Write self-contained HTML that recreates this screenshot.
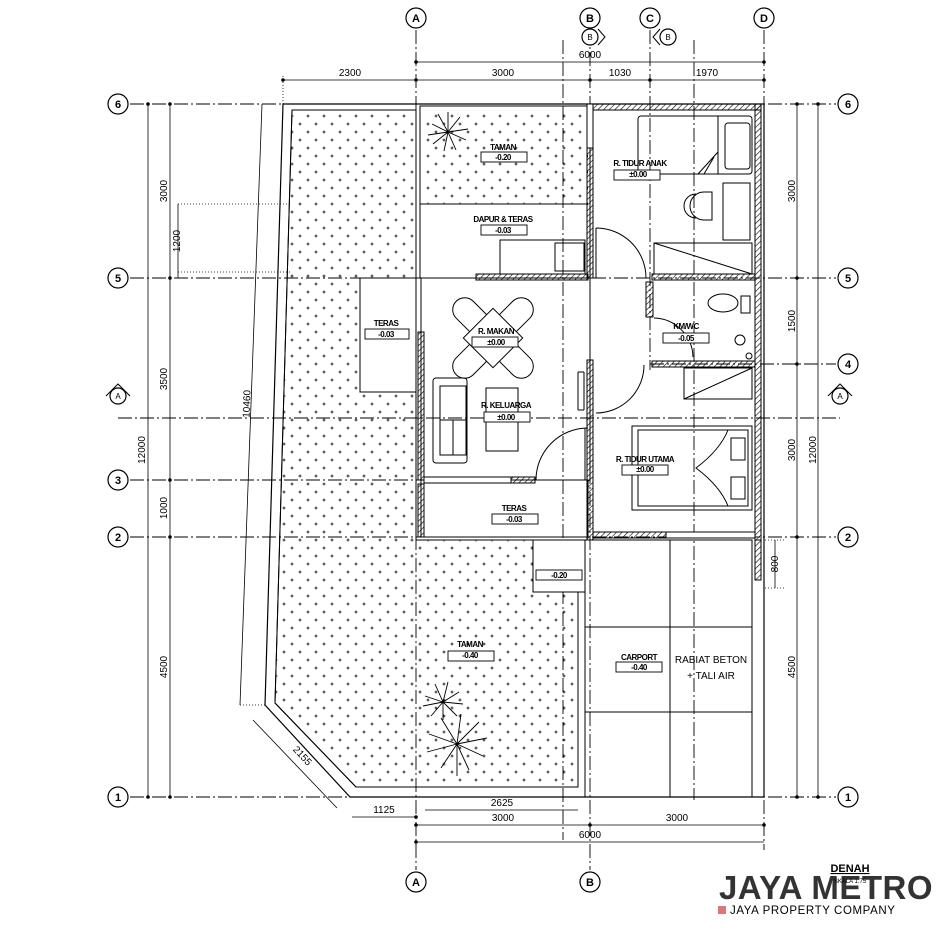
<!DOCTYPE html>
<html><head><meta charset="utf-8"><style>
html,body{margin:0;padding:0;background:#fff;width:949px;height:930px;overflow:hidden}
svg{display:block}
text{font-family:"Liberation Sans",sans-serif;fill:#000}
.b{font-weight:bold;font-size:8px;letter-spacing:-0.5px}
.d{font-size:10px}
</style></head><body>
<svg width="949" height="930" viewBox="0 0 949 930" xmlns="http://www.w3.org/2000/svg">
<defs>
<pattern id="pl" width="16" height="16" patternUnits="userSpaceOnUse">
<path d="M4 2.5v3M2.5 4h3M12 10.5v3M10.5 12h3" stroke="#000" stroke-width="0.8"/>
</pattern>
<pattern id="ht" width="4" height="4" patternUnits="userSpaceOnUse" patternTransform="rotate(45)">
<line x1="0" y1="0" x2="0" y2="4" stroke="#000" stroke-width="1.2"/>
</pattern>
</defs>
<g fill="none" stroke="#000" stroke-width="1">
<g stroke-dasharray="14 3 2 3" stroke-width="0.9">
<line x1="130" y1="104" x2="836" y2="104"/>
<line x1="130" y1="278" x2="836" y2="278"/>
<line x1="650" y1="364" x2="836" y2="364"/>
<line x1="118" y1="418" x2="840" y2="418"/>
<line x1="130" y1="480" x2="590" y2="480"/>
<line x1="130" y1="537" x2="836" y2="537"/>
<line x1="130" y1="797" x2="836" y2="797"/>
<line x1="416" y1="30" x2="416" y2="870"/>
<line x1="590" y1="30" x2="590" y2="870"/>
<line x1="650" y1="30" x2="650" y2="370"/>
<line x1="764" y1="30" x2="764" y2="850"/>
<line x1="563" y1="40" x2="563" y2="840"/>
<line x1="694" y1="40" x2="694" y2="800"/>
</g>
</g>
<polygon points="292,110 416,110 416,540 533,540 533,592 578,592 578,787 356,787 275,703" fill="url(#pl)" stroke="#000"/>
<rect x="422" y="110" width="166" height="94" fill="url(#pl)" stroke="none"/>
<g fill="none" stroke="#000" stroke-width="1">
<polyline points="283,104 764,104 764,797 350,797 265,705 283,104" stroke-width="1.2"/>
<polyline points="292,110 275,703 356,787"/>
<rect x="420" y="106" width="170" height="172"/>
<line x1="420" y1="204" x2="588" y2="204"/>
<rect x="360" y="278" width="56" height="114" fill="#fff"/>
<rect x="533" y="540" width="52" height="52" fill="#fff"/>
<rect x="585" y="540" width="167" height="257"/>
<line x1="670" y1="540" x2="670" y2="797"/>
<line x1="585" y1="627" x2="752" y2="627"/>
<line x1="585" y1="712" x2="752" y2="712"/>
<line x1="752" y1="540" x2="752" y2="797"/>
<rect x="421" y="480" width="167" height="57"/>
<rect x="421" y="278" width="169" height="202"/>
</g>
<g fill="url(#ht)" stroke="#000" stroke-width="1">
<rect x="592" y="104" width="169" height="6"/>
<rect x="755" y="104" width="6" height="436"/>
<rect x="587" y="148" width="6" height="130"/>
<rect x="476" y="274" width="112" height="6"/>
<rect x="652" y="274" width="103" height="6"/>
<rect x="646" y="282" width="7" height="35"/>
<rect x="652" y="361" width="103" height="6"/>
<rect x="587" y="360" width="6" height="180"/>
<rect x="418" y="332" width="6" height="148"/>
<rect x="418" y="484" width="6" height="53"/>
<rect x="511" y="477" width="24" height="6"/>
<rect x="593" y="532" width="73" height="6"/>
<rect x="755" y="540" width="6" height="40"/>
</g>
<g fill="#fff" stroke="#000" stroke-width="1">
<rect x="424" y="477" width="87" height="6"/>
<rect x="666" y="532" width="89" height="6"/>
<rect x="587" y="104" width="6" height="44"/>
</g>
<g fill="none" stroke="#000" stroke-width="1">
<path d="M596 228 A50 50 0 0 1 646 278"/>
<line x1="596" y1="228" x2="596" y2="278"/>
<path d="M596 413 A48 48 0 0 0 644 365"/>
<path d="M536 480 A52 52 0 0 1 588 428"/>
<line x1="585" y1="428" x2="585" y2="480"/>
<path d="M654 318 A40 40 0 0 1 693 357"/>
<line x1="578" y1="372" x2="578" y2="410"/>
<line x1="584" y1="372" x2="584" y2="410"/>
<line x1="578" y1="372" x2="584" y2="372"/><line x1="578" y1="410" x2="584" y2="410"/>
<rect x="500" y="240" width="85" height="34"/>
<rect x="555" y="243" width="29" height="28"/>
<rect x="638" y="116" width="114" height="58" rx="3"/>
<rect x="725" y="123" width="25" height="46" rx="3"/>
<line x1="718" y1="116" x2="718" y2="174"/>
<path d="M718 152 L698 174 M714 157 L704 174"/>
<rect x="723" y="183" width="27" height="57"/>
<path d="M712 192 h-8 a14 14 0 0 0 0 28 h8 z"/>
<path d="M696 194 a12 12 0 0 0 0 24"/>
<rect x="654" y="243" width="98" height="31"/>
<line x1="654" y1="243" x2="752" y2="274"/>
<ellipse cx="723" cy="303" rx="15" ry="9"/>
<rect x="741" y="296" width="9" height="17"/>
<circle cx="740" cy="340" r="5"/>
<circle cx="749" cy="356" r="3"/>
<rect x="684" y="368" width="68" height="31"/>
<line x1="684" y1="399" x2="752" y2="368"/>
<rect x="632" y="426" width="120" height="84"/>
<rect x="638" y="430" width="110" height="76"/>
<path d="M728 430 Q720 450 696 468 Q720 486 728 506"/>
<rect x="731" y="438" width="14" height="22"/><rect x="731" y="477" width="14" height="22"/>
<g transform="translate(493 338)">
<rect x="-52" y="-12" width="104" height="24" rx="12" transform="rotate(45)" fill="#fff"/>
<rect x="-52" y="-12" width="104" height="24" rx="12" transform="rotate(-45)" fill="#fff"/>
<rect x="-21" y="-21" width="42" height="42" transform="rotate(45)" fill="#fff"/>
</g>
<rect x="433" y="378" width="34" height="85" rx="3"/>
<rect x="440" y="386" width="26" height="69"/>
<line x1="440" y1="420" x2="466" y2="420"/><line x1="453" y1="420" x2="453" y2="455"/>
<rect x="486" y="388" width="32" height="63"/>
<g stroke-width="0.8">
<line x1="283" y1="80" x2="764" y2="80"/>
<line x1="416" y1="62" x2="764" y2="62"/>
<line x1="148" y1="104" x2="148" y2="797"/>
<line x1="170" y1="104" x2="170" y2="797"/>
<line x1="178" y1="204" x2="178" y2="278"/>
<line x1="262" y1="104" x2="240" y2="705"/>
<line x1="797" y1="104" x2="797" y2="797"/>
<line x1="818" y1="104" x2="818" y2="797"/>
<line x1="775" y1="540" x2="775" y2="588"/>
<line x1="352" y1="817" x2="416" y2="817"/>
<line x1="425" y1="810" x2="578" y2="810"/>
<line x1="416" y1="825" x2="764" y2="825"/>
<line x1="416" y1="842" x2="764" y2="842"/>
<line x1="253" y1="720" x2="337" y2="808"/>
</g>
<g stroke-dasharray="1 2" stroke-width="0.8">
<line x1="283" y1="76" x2="283" y2="104"/>
<line x1="178" y1="204" x2="290" y2="204"/>
<line x1="178" y1="272" x2="290" y2="272"/>
<line x1="765" y1="540" x2="785" y2="540"/>
<line x1="765" y1="588" x2="785" y2="588"/>
<line x1="240" y1="705" x2="265" y2="705"/>
</g>
</g>
<g fill="#000">
<circle cx="416" cy="80" r="1.8"/><circle cx="590" cy="80" r="1.8"/><circle cx="650" cy="80" r="1.8"/><circle cx="764" cy="80" r="1.8"/><circle cx="283" cy="80" r="1.8"/>
<circle cx="416" cy="62" r="1.8"/><circle cx="764" cy="62" r="1.8"/>
<circle cx="170" cy="278" r="1.8"/><circle cx="170" cy="480" r="1.8"/><circle cx="170" cy="537" r="1.8"/><circle cx="148" cy="104" r="1.8"/><circle cx="170" cy="104" r="1.8"/><circle cx="148" cy="797" r="1.8"/><circle cx="170" cy="797" r="1.8"/>
<circle cx="797" cy="278" r="1.8"/><circle cx="797" cy="364" r="1.8"/><circle cx="797" cy="537" r="1.8"/><circle cx="797" cy="104" r="1.8"/><circle cx="818" cy="104" r="1.8"/><circle cx="797" cy="797" r="1.8"/><circle cx="818" cy="797" r="1.8"/>
<circle cx="416" cy="825" r="1.8"/><circle cx="590" cy="825" r="1.8"/><circle cx="764" cy="825" r="1.8"/><circle cx="416" cy="842" r="1.8"/><circle cx="416" cy="817" r="1.8"/>
</g>
<g fill="#fff" stroke="#000" stroke-width="1.2">
<circle cx="416" cy="18" r="10"/><circle cx="590" cy="18" r="10"/><circle cx="650" cy="18" r="10"/><circle cx="764" cy="18" r="10"/>
<circle cx="416" cy="882" r="10"/><circle cx="590" cy="882" r="10"/>
<circle cx="118" cy="104" r="10"/><circle cx="118" cy="278" r="10"/><circle cx="118" cy="480" r="10"/><circle cx="118" cy="537" r="10"/><circle cx="118" cy="797" r="10"/>
<circle cx="848" cy="104" r="10"/><circle cx="848" cy="278" r="10"/><circle cx="848" cy="364" r="10"/><circle cx="848" cy="537" r="10"/><circle cx="848" cy="797" r="10"/>
<circle cx="118" cy="396" r="8"/><circle cx="840" cy="396" r="8"/>
<circle cx="590" cy="37" r="8"/><circle cx="668" cy="37" r="8"/>
</g>
<g fill="none" stroke="#000"><path d="M106 396 L118 384 L130 396 M828 396 L840 384 L852 396 M598 29 L605 37 L598 45 M660 29 L653 37 L660 45"/></g>
<g font-size="11" font-weight="bold" text-anchor="middle">
<text x="416" y="22">A</text><text x="590" y="22">B</text><text x="650" y="22">C</text><text x="764" y="22">D</text>
<text x="416" y="886">A</text><text x="590" y="886">B</text>
<text x="118" y="108">6</text><text x="118" y="282">5</text><text x="118" y="484">3</text><text x="118" y="541">2</text><text x="118" y="801">1</text>
<text x="848" y="108">6</text><text x="848" y="282">5</text><text x="848" y="368">4</text><text x="848" y="541">2</text><text x="848" y="801">1</text>
</g>
<g font-size="8" text-anchor="middle"><text x="118" y="399">A</text><text x="840" y="399">A</text><text x="590" y="40">B</text><text x="668" y="40">B</text></g>
<g class="d" text-anchor="middle">
<text x="350" y="76">2300</text><text x="503" y="76">3000</text><text x="620" y="76">1030</text><text x="707" y="76">1970</text>
<text x="590" y="58">6000</text>
<text x="384" y="813">1125</text><text x="502" y="806">2625</text><text x="503" y="821">3000</text><text x="677" y="821">3000</text><text x="590" y="838">6000</text>
<text transform="translate(167 191) rotate(-90)">3000</text>
<text transform="translate(180 241) rotate(-90)">1200</text>
<text transform="translate(167 379) rotate(-90)">3500</text>
<text transform="translate(167 508) rotate(-90)">1000</text>
<text transform="translate(167 667) rotate(-90)">4500</text>
<text transform="translate(145 450) rotate(-90)">12000</text>
<text transform="translate(250 404) rotate(-88)">10460</text>
<text transform="translate(795 191) rotate(-90)">3000</text>
<text transform="translate(795 321) rotate(-90)">1500</text>
<text transform="translate(795 450) rotate(-90)">3000</text>
<text transform="translate(795 667) rotate(-90)">4500</text>
<text transform="translate(816 450) rotate(-90)">12000</text>
<text transform="translate(778 564) rotate(-90)">800</text>
<text transform="translate(300 758) rotate(47)">2155</text>
</g>
<g fill="#fff" stroke="#000" stroke-width="0.9">
<rect x="481" y="152" width="46" height="10"/><rect x="481" y="225" width="46" height="10"/><rect x="365" y="329" width="44" height="10"/><rect x="472" y="337" width="46" height="10"/><rect x="484" y="412" width="46" height="10"/><rect x="492" y="514" width="46" height="10"/><rect x="614" y="170" width="46" height="10"/><rect x="663" y="333" width="46" height="10"/><rect x="622" y="465" width="46" height="10"/><rect x="448" y="651" width="46" height="10"/><rect x="616" y="662" width="46" height="10"/><rect x="536" y="570" width="46" height="10"/>
</g>
<g text-anchor="middle">
<g class="b"><text x="503" y="150">TAMAN</text><text x="503" y="222">DAPUR &amp; TERAS</text><text x="386" y="326">TERAS</text><text x="496" y="334">R. MAKAN</text><text x="506" y="408">R. KELUARGA</text><text x="514" y="511">TERAS</text><text x="640" y="166">R. TIDUR ANAK</text><text x="686" y="329">KM/WC</text><text x="645" y="462">R. TIDUR UTAMA</text><text x="470" y="647">TAMAN</text><text x="639" y="660">CARPORT</text>
<text x="503" y="160">-0.20</text><text x="503" y="233">-0.03</text><text x="386" y="337">-0.03</text><text x="496" y="345">±0.00</text><text x="506" y="420">±0.00</text><text x="514" y="522">-0.03</text><text x="638" y="177">±0.00</text><text x="686" y="341">-0.05</text><text x="645" y="472">±0.00</text><text x="470" y="658">-0.40</text><text x="639" y="670">-0.40</text><text x="559" y="578">-0.20</text></g>
</g>
<g font-size="10" text-anchor="middle"><text x="711" y="663">RABIAT BETON</text><text x="711" y="679">+ TALI AIR</text></g>
<g fill="none" stroke="#000" stroke-width="0.9">
<g transform="translate(448 132)"><path d="M0 0L-16-8M0 0L-10-18M0 0L0-20M0 0L12-15M0 0L20-3M0 0L18 8M0 0L8 18M0 0L-4 19M0 0L-15 12M0 0L-20 3"/></g>
<g transform="translate(443 702)"><path d="M0 0L-18-6M0 0L-8-18M0 0L5-20M0 0L16-10M0 0L20 2M0 0L14 14M0 0L0 18M0 0L-12 14M0 0L-20 4"/></g>
<g transform="translate(457 744)"><path d="M0 0L-28-10M0 0L-16-26M0 0L4-30M0 0L22-22M0 0L30-6M0 0L26 12M0 0L12 26M0 0L0 32M0 0L-16 24M0 0L-30 8"/></g>
</g>
<text x="850" y="872" font-size="11" font-weight="bold" text-anchor="middle" text-decoration="underline">DENAH</text>
<text x="850" y="883" font-size="6" text-anchor="middle">SKALA 1:75</text>
<text x="826" y="899" font-size="33" font-weight="bold" fill="#666" fill-opacity="0.8" text-anchor="middle" letter-spacing="0.5">JAYA METRO</text>
<rect x="718" y="906" width="8" height="8" fill="#d77"/>
<text x="730" y="914" font-size="11.5" fill="#777" letter-spacing="0.6">JAYA PROPERTY COMPANY</text>
</svg>
</body></html>
